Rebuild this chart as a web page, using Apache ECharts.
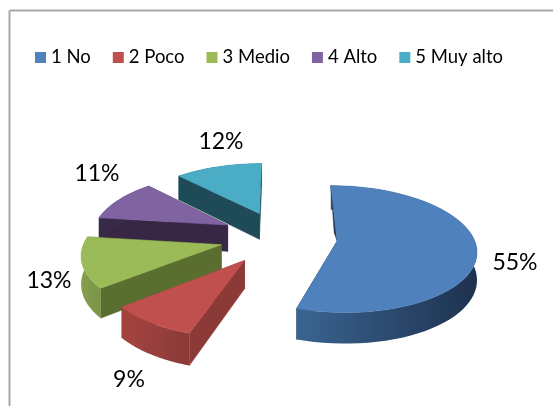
<!DOCTYPE html>
<html>
<head>
<meta charset="utf-8">
<style>html,body{margin:0;padding:0;background:#fff}#c{width:553px;height:406px}</style>
<script src="https://cdn.jsdelivr.net/npm/echarts@6/dist/echarts.min.js"></script>
</head>
<body>
<div id="c"></div>
<script>
const categories = ['1 No', '2 Poco', '3 Medio', '4 Alto', '5 Muy alto'];
const values = [55, 9, 13, 11, 12];

const topColors = ['#4f81bd', '#c0504d', '#9bbb59', '#8064a2', '#4bacc6'];
const cutColors = ['#1f3552', '#8c3a38', '#5a6e30', '#372745', '#1f4a57'];
const wallStops = [['#3a6491', '#1e324f'], ['#a5443f', '#8a3a38'], ['#84a04e', '#7a9448'], ['#3a2a4a', '#3a2a4a'], ['#1f4a57', '#1f4a57']];
const explode = [0.41, 0.43, 0.43, 0.43, 0.42];
const radius = [0.975, 0.97, 0.97, 0.97, 0.98];
const drawZ = [3, 5, 4, 2, 1];
const labelAt = [[515, 263], [129, 380], [49, 281], [97, 174], [221, 142]];

const CX = 280, CY = 237, RX = 140, RY = 63, K = 0.128, H = 27;
const total = values.reduce((a, b) => a + b, 0);

function pt(deg, r, mid, e, d) {
  const a = deg * Math.PI / 180, m = mid * Math.PI / 180;
  const u = e * Math.sin(m) + r * Math.sin(a);
  const v = -e * Math.cos(m) - r * Math.cos(a);
  const w = 1 / (1 - K * v);
  return [CX + RX * u * w, CY + RY * v * w + d * H * w];
}

function renderSlice(i) {
  let acc = 0;
  for (let j = 0; j < i; j++) acc += values[j];
  const a0 = acc / total * 360, a1 = (acc + values[i]) / total * 360, mid = (a0 + a1) / 2;
  const e = explode[i], r = radius[i];
  const arcTop = [], arcBot = [];
  const n = 60;
  for (let s = 0; s <= n; s++) {
    const t = a0 + (a1 - a0) * s / n;
    arcTop.push(pt(t, r, mid, e, 0));
    arcBot.push(pt(t, r, mid, e, 1));
  }
  const apexT = pt(0, 0, mid, e, 0), apexB = pt(0, 0, mid, e, 1);
  const kids = [];
  const poly = (points, fill) => kids.push({ type: 'polygon', shape: { points }, style: { fill, stroke: fill, lineWidth: 0.5 } });
  if (i !== 0) poly([arcTop[0], apexT, apexB, arcBot[0]], cutColors[i]);
  poly([arcTop[n], apexT, apexB, arcBot[n]], cutColors[i]);
  kids.push({
    type: 'polygon',
    shape: { points: arcTop.concat(arcBot.slice().reverse()) },
    style: {
      fill: new echarts.graphic.LinearGradient(0, 0, 1, 0, [
        { offset: 0, color: wallStops[i][0] }, { offset: 1, color: wallStops[i][1] }
      ])
    }
  });
  if (i === 0) {
    const far = arcTop[0];
    poly([far, apexT, [far[0] + (apexT[0] - far[0]) * 0.85 - 2, far[1] + (apexT[1] - far[1]) * 0.85]], cutColors[0]);
  }
  poly([apexT].concat(arcTop), topColors[i]);
  kids.push({
    type: 'text',
    style: {
      text: Math.round(values[i] / total * 100) + '%',
      x: labelAt[i][0], y: labelAt[i][1],
      fontSize: 23, fontFamily: 'Lato', fill: '#000',
      align: 'center', verticalAlign: 'middle'
    }
  });
  return { type: 'group', children: kids };
}

const chart = echarts.init(document.getElementById('c'), null, { renderer: 'canvas' });
chart.setOption({
  animation: false,
  backgroundColor: '#fff',
  legend: {
    data: categories,
    left: 30, top: 43,
    itemWidth: 11, itemHeight: 11, itemGap: 22,
    icon: 'rect',
    textStyle: { fontFamily: 'Lato', fontSize: 18.5, color: '#000', padding: [0, 0, 0, 0] }
  },
  graphic: [
    { type: 'line', shape: { x1: 9.5, y1: 10.5, x2: 553, y2: 10.5 }, style: { stroke: '#a6a6a6', lineWidth: 2 } },
    { type: 'line', shape: { x1: 9.5, y1: 10.5, x2: 9.5, y2: 406 }, style: { stroke: '#a6a6a6', lineWidth: 2 } }
  ],
  series: categories.map((name, i) => ({
    type: 'custom',
    name,
    coordinateSystem: 'none',
    z: drawZ[i],
    itemStyle: { color: topColors[i] },
    data: [values[i]],
    renderItem: () => renderSlice(i)
  }))
});
</script>
</body>
</html>
